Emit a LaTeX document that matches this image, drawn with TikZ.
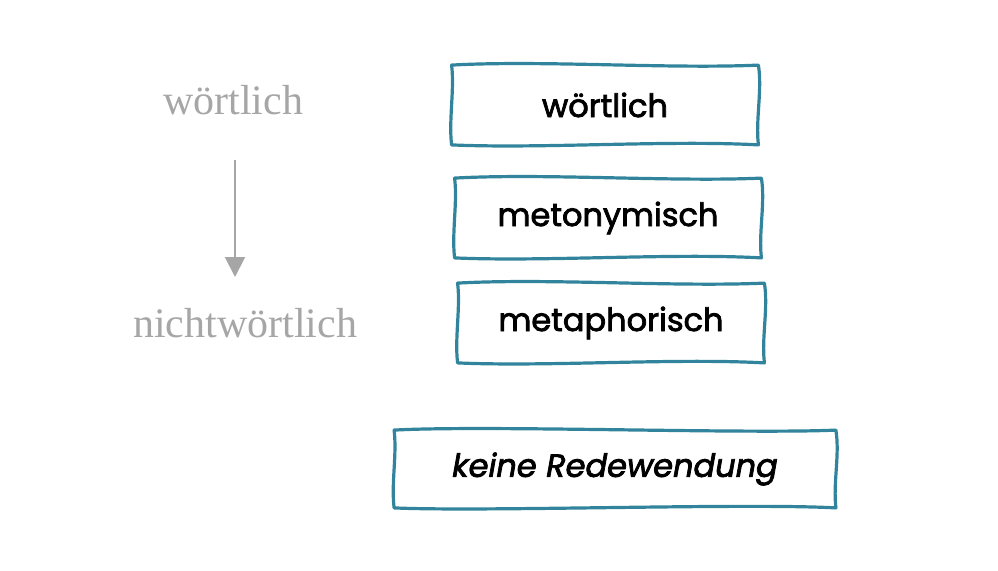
\documentclass[tikz,border=0pt]{standalone}
\usepackage{fontspec}
\usetikzlibrary{arrows.meta}
\newfontfamily\grayfont{Liberation Serif}
\newfontfamily\handfont{Poppins}[FakeBold=2.4]
\definecolor{boxteal}{HTML}{31849B}
\definecolor{labelgray}{HTML}{A6A6A6}
% hand drawn frame round a named node
\newcommand{\wobbly}[1]{
    \draw[frame] (#1.north west) .. controls +(90,-5) and +(-90,4) .. (#1.north east)
        .. controls +(4,25) and +(-3,-25) .. (#1.south east)
        .. controls +(-90,-5) and +(90,4) .. (#1.south west)
        .. controls +(-3,-25) and +(3,25) .. cycle;
}
\begin{document}
\begin{tikzpicture}[x=1pt, y=-1pt, thick]
                \tikzstyle{level}=[text=labelgray, font=\grayfont\fontsize{42}{46}\selectfont]
                \tikzstyle{card}=[minimum width=306pt, minimum height=79pt, inner sep=0pt,
                                  font=\handfont\fontsize{32}{38}\selectfont]
                \tikzstyle{frame}=[draw=boxteal, line width=3.2pt, line join=round]
                \useasboundingbox (0,0) rectangle (998,570);

                \node[level] (lit) at (233, 100) {wörtlich};
                \node[level] (nonlit) at (245, 323) {nichtwörtlich};
                \coordinate (top) at (235, 160);
                \coordinate (bot) at (235, 277);

                \node[card] (c1) at (605, 105) {wörtlich};
                \node[card] (c2) at (608, 218) {metonymisch};
                \node[card] (c3) at (611, 323) {metaphorisch};
                \node[card, minimum width=441pt, minimum height=77pt] (c4) at (615, 469) {\itshape keine Redewendung};

                \wobbly{c1}
                \wobbly{c2}
                \wobbly{c3}
                \wobbly{c4}

                \draw[labelgray, line width=2pt, -{Triangle[width=20pt, length=20pt]}] (top) -- (bot);
            \end{tikzpicture}
\end{document}
